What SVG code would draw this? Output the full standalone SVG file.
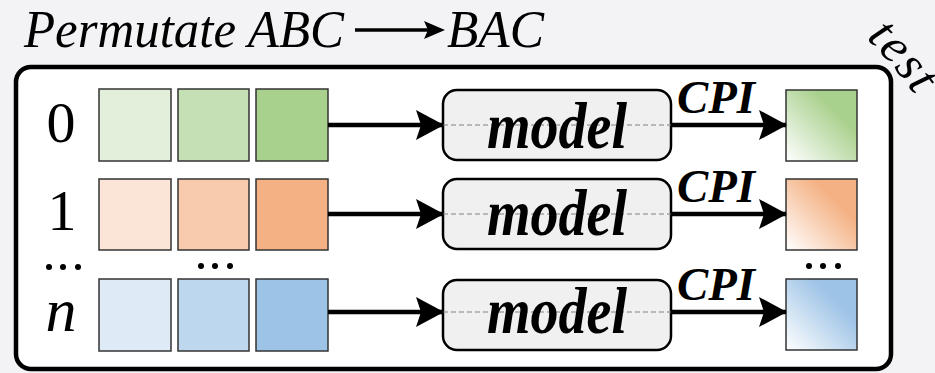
<svg xmlns="http://www.w3.org/2000/svg" width="935" height="373" viewBox="0 0 935 373">
  <style>
    .serif { font-family: "Liberation Serif", "Times New Roman", serif; fill: #000; }
    .cell { stroke: #333; stroke-width: 1.5; }
    .model { fill: #f0f0f0; stroke: #000; stroke-width: 2.5; }
    .mid { stroke: #808080; stroke-width: 1.2; stroke-dasharray: 5 3; fill: none; }
    .edge { stroke: #000; stroke-width: 4.5; fill: none; }
    .lbl { font-style: italic; font-weight: bold; }
  </style>
  <defs>
    <marker id="head" viewBox="0 0 28 30" refX="27" refY="15" markerWidth="28" markerHeight="30" markerUnits="userSpaceOnUse" orient="auto">
      <path d="M0,0 L28,15 L0,30 L5,15 Z" fill="#000"/>
    </marker>
    <linearGradient id="gG" x1="0" y1="1" x2="1" y2="0">
      <stop offset="0" stop-color="#ffffff"/>
      <stop offset="0.7" stop-color="#a9d18e"/>
    </linearGradient>
    <linearGradient id="gO" x1="0" y1="1" x2="1" y2="0">
      <stop offset="0" stop-color="#ffffff"/>
      <stop offset="0.7" stop-color="#f4b183"/>
    </linearGradient>
    <linearGradient id="gB" x1="0" y1="1" x2="1" y2="0">
      <stop offset="0" stop-color="#ffffff"/>
      <stop offset="0.7" stop-color="#9dc3e6"/>
    </linearGradient>
    <!-- baseline of the arched side caption -->
    <path id="arc" d="M 866,38 A 400 400 0 0 1 932,122"/>
  </defs>

  <rect width="935" height="373" fill="#f3f2f5"/>

  <!-- heading -->
  <g id="title">
    <text class="serif" x="24" y="47" font-size="52" font-style="italic" textLength="320" lengthAdjust="spacingAndGlyphs">Permutate ABC</text>
    <path d="M355,30 H428" stroke="#000" stroke-width="3.5"/>
    <path d="M424,21 L445,30 L424,39 L428,30 Z" fill="#000"/>
    <text class="serif" x="447" y="47" font-size="52" font-style="italic" textLength="97" lengthAdjust="spacingAndGlyphs">BAC</text>
  </g>

  <g id="test-label">
    <text class="serif" font-size="50" font-style="italic" letter-spacing="2"><textPath href="#arc">test</textPath></text>
  </g>

  <!-- frame -->
  <g id="frame">
    <rect x="16" y="67" width="875" height="302" rx="15" fill="#fff" stroke="#000" stroke-width="4.5"/>
  </g>

  <!-- row labels -->
  <g id="labels">
    <text class="serif" x="61" y="142" font-size="58" text-anchor="middle">0</text>
    <text class="serif" x="62" y="230" font-size="58" text-anchor="middle">1</text>
    <text class="serif" x="61" y="331" font-size="62" font-style="italic" text-anchor="middle">n</text>
    <g fill="#000">
      <circle cx="49" cy="267" r="3"/><circle cx="63" cy="267" r="3"/><circle cx="78" cy="267" r="3"/>
      <circle cx="201" cy="266" r="3"/><circle cx="215" cy="266" r="3"/><circle cx="230" cy="266" r="3"/>
      <circle cx="809" cy="266" r="3"/><circle cx="823" cy="266" r="3"/><circle cx="838" cy="266" r="3"/>
    </g>
  </g>

  <!-- input sequences -->
  <g id="row0">
    <rect class="cell" x="99" y="89" width="72" height="72" fill="#e2efdb"/>
    <rect class="cell" x="178" y="89" width="71" height="72" fill="#c5e0b4"/>
    <rect class="cell" x="256" y="89" width="72" height="72" fill="#a9d18e"/>
  </g>
  <g id="row1">
    <rect class="cell" x="99" y="179" width="72" height="71" fill="#fbe5d6"/>
    <rect class="cell" x="178" y="179" width="71" height="71" fill="#f8cbad"/>
    <rect class="cell" x="256" y="179" width="72" height="71" fill="#f4b183"/>
  </g>
  <g id="rowN">
    <rect class="cell" x="99" y="279" width="72" height="72" fill="#deebf7"/>
    <rect class="cell" x="178" y="279" width="71" height="72" fill="#bdd7ee"/>
    <rect class="cell" x="256" y="279" width="72" height="72" fill="#9dc3e6"/>
  </g>

  <!-- models -->
  <g id="model0">
    <rect class="model" x="443" y="90" width="228" height="70" rx="14"/>
    <path class="mid" d="M443,125 H671"/>
    <text class="serif lbl" x="557" y="148" font-size="66" text-anchor="middle" textLength="140" lengthAdjust="spacingAndGlyphs">model</text>
  </g>
  <g id="model1">
    <rect class="model" x="443" y="179" width="228" height="70" rx="14"/>
    <path class="mid" d="M443,214 H671"/>
    <text class="serif lbl" x="557" y="235" font-size="66" text-anchor="middle" textLength="140" lengthAdjust="spacingAndGlyphs">model</text>
  </g>
  <g id="modelN">
    <rect class="model" x="443" y="280" width="228" height="70" rx="14"/>
    <path class="mid" d="M443,312 H671"/>
    <text class="serif lbl" x="557" y="333" font-size="66" text-anchor="middle" textLength="140" lengthAdjust="spacingAndGlyphs">model</text>
  </g>

  <!-- outputs -->
  <g id="out0"><rect class="cell" x="786" y="90" width="71" height="71" fill="url(#gG)"/></g>
  <g id="out1"><rect class="cell" x="786" y="179" width="71" height="71" fill="url(#gO)"/></g>
  <g id="outN"><rect class="cell" x="786" y="279" width="71" height="71" fill="url(#gB)"/></g>

  <!-- connectors -->
  <g id="connectors">
    <path class="edge" d="M328,125 H443" marker-end="url(#head)"/>
    <path class="edge" d="M328,214 H443" marker-end="url(#head)"/>
    <path class="edge" d="M328,312 H443" marker-end="url(#head)"/>
    <path class="edge" d="M671,125 H786" marker-end="url(#head)"/>
    <path class="edge" d="M671,214 H786" marker-end="url(#head)"/>
    <path class="edge" d="M671,312 H786" marker-end="url(#head)"/>
    <text class="serif lbl" x="677" y="113" font-size="46" textLength="78" lengthAdjust="spacingAndGlyphs">CPI</text>
    <text class="serif lbl" x="677" y="202" font-size="46" textLength="78" lengthAdjust="spacingAndGlyphs">CPI</text>
    <text class="serif lbl" x="677" y="300" font-size="46" textLength="78" lengthAdjust="spacingAndGlyphs">CPI</text>
  </g>
</svg>
